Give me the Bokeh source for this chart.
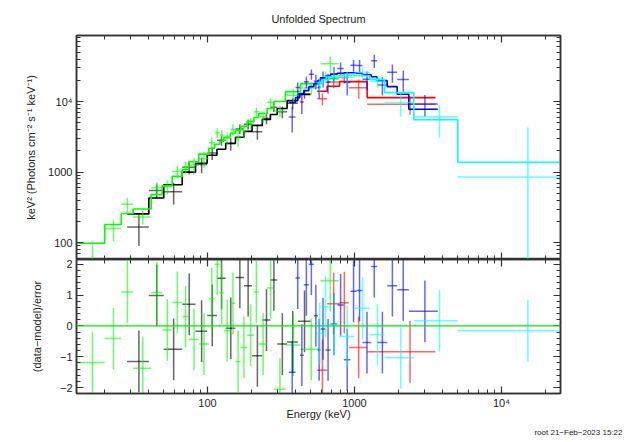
import numpy as np
from bokeh.plotting import figure
from bokeh.layouts import column
from bokeh.models import (Range1d, LogAxis, LinearAxis, LogTicker, SingleIntervalTicker,
                          Title, Span, CustomJSTickFormatter)
from bokeh.embed import file_html
from bokeh.resources import INLINE

# ---------------- data ----------------
# energy bin edges (keV), unfolded flux keV^2 (Photons cm^-2 s^-1 keV^-1), errors, model, residuals
black_lo = [28.4, 39.9, 50.4, 67.3, 82.9, 99.5, 116, 133, 155, 177, 201, 236, 268, 298, 348, 412]
black_hi = [39.9, 50.4, 67.3, 82.9, 99.5, 116, 133, 155, 177, 201, 236, 268, 298, 348, 412, 502]
black_flux = [167, 548, 527, 1175, 1284, 1865, 2824, 2520, 4091, 4763, 3745, 5768, 8316, 7168, 9461, 12843]
black_err = [77, 120, 179, 250, 321, 382, 464, 512, 623, 756, 872, 1004, 1180, 1354, 1651, 1884]
black_model = [256, 430, 663, 1000, 1339, 1735, 2109, 2561, 3113, 3780, 4591, 5577, 6558, 7967, 10320, 12560]
black_resid = [-1.15, 0.98, -0.76, 0.70, -0.17, 0.34, 1.54, -0.08, 1.57, 1.30, -0.97, 0.19, 1.49, -0.59, -0.52, 0.15]

red_lo = [558, 652, 791, 915, 1219]
red_hi = [652, 791, 915, 1219, 3556]
red_flux = [11000, 19000, 22000, 15740, 9160]
red_err = [2100, 3470, 3800, 4860, 2640]
red_model = [14000, 16500, 19140, 19140, 11380]
red_resid = [-1.44, 0.72, 0.75, -0.70, -0.84]

green_lo = [13.0, 20.0, 25.9, 31.2, 41.4, 49.2, 57.5, 67.3, 74.6, 87.3, 102, 112, 121, 129, 143,
            155, 168, 186, 207, 223, 255, 283, 339, 429, 587]
green_hi = [20.0, 25.9, 31.2, 41.4, 49.2, 57.5, 67.3, 74.6, 87.3, 102, 112, 121, 129, 143, 155,
            168, 186, 207, 223, 255, 283, 339, 429, 587, 782]
green_flux = [58, 159, 350, 231, 603, 622, 1030, 1172, 1255, 1558, 2600, 3600, 3350, 3020, 4050,
              3050, 3850, 4950, 7150, 6100, 9800, 7300, 12300, 15600, 34300]
green_err = [34, 54, 83, 50, 115, 140, 210, 240, 330, 410, 480, 560, 575, 620, 700,
             750, 850, 920, 1090, 1150, 1490, 1320, 2470, 3100, 9000]
green_model = [98, 181, 259, 300, 480, 640, 870, 1100, 1400, 1800, 2178, 2479, 2734, 3113, 3543,
               3908, 4448, 5226, 5953, 6777, 7967, 10000, 13830, 17940, 21090]
green_resid = [-1.19, -0.41, 1.10, -1.37, 1.07, -0.13, 0.76, 0.30, -0.44, -0.59, 0.88, 2.0, 1.07, -0.15, 0.73,
               -1.15, -0.70, -0.30, 1.10, -0.59, 1.23, -2.05, -0.62, -0.76, 1.46]

blue_lo = [357, 397, 425, 452, 489, 529, 563, 587, 635, 687, 763, 846, 939, 1032, 1133, 1299, 1427, 1669, 1952, 2341]
blue_hi = [397, 425, 452, 489, 529, 563, 587, 635, 687, 763, 846, 939, 1032, 1133, 1299, 1427, 1669, 1952, 2341, 3687]
blue_flux = [6053, 15790, 9890, 19040, 24400, 19420, 15910, 21250, 18710, 24760, 29480, 18570, 32780, 32450,
             20750, 38000, 17100, 26000, 20600, 9258]
blue_err = [2421, 2845, 3243, 3573, 4068, 4485, 4943, 5448, 5810, 6098, 6300, 6403, 6403, 6300,
            5998, 8000, 4943, 7500, 6800, 3117]
blue_model = [9685, 11380, 12970, 14290, 16270, 17940, 19770, 21790, 23240, 24390, 25200, 25610, 25610, 25200,
              23990, 22490, 19770, 16270, 12670, 7793]
blue_resid = [-1.50, 1.55, -0.95, 1.33, 2.0, 0.33, -0.78, -0.10, -0.78, 0.06, 0.68, -1.10, 1.12, 1.15,
              -0.54, 1.92, -0.54, 1.30, 1.17, 0.47]

cyan_lo = [558, 603, 669, 782, 1000, 1271, 1600, 2532, 5043]
cyan_hi = [603, 669, 782, 1000, 1271, 1600, 2532, 5043, 25200]
cyan_flux = [17570, 22890, 22660, 22090, 25800, 19440, 9685, 6090, 851]
cyan_err = [3800, 4000, 4200, 4500, 4500, 4000, 3600, 3000, 3450]
cyan_model = [18520, 20410, 22490, 23620, 23240, 20600, 13390, 5525, 1383]
cyan_resid = [-0.25, 0.62, 0.04, -0.34, 0.57, -0.29, -1.03, 0.17, -0.16]

tick_labels = {100: "100", 1000: "1000", 10000: "10\u2074"}

title_text = "Unfolded Spectrum"
ylabel_top = "keV\u00b2 (Photons cm\u207b\u00b2 s\u207b\u00b9 keV\u207b\u00b9)"
ylabel_bot = "(data\u2212model)/error"
xlabel = "Energy (keV)"
footnote = "root 21\u2212Feb\u22122023 15:22"

# ---------------- styling ----------------
FONT = "Liberation Sans"
TXT = "#222222"
FRAME = "#333333"

x_range = Range1d(12.85, 25200)
blank = CustomJSTickFormatter(code="return ''")


def style_axis(ax, labels=True, size="11px"):
    ax.axis_line_color = FRAME
    ax.axis_line_width = 1.5
    ax.major_tick_line_color = FRAME
    ax.minor_tick_line_color = FRAME
    ax.major_tick_line_width = 1.2
    ax.minor_tick_line_width = 1.0
    ax.major_tick_in = 7
    ax.major_tick_out = 0
    ax.minor_tick_in = 4
    ax.minor_tick_out = 0
    ax.major_label_text_font = FONT
    ax.major_label_text_color = TXT
    ax.axis_label_text_font = FONT
    ax.axis_label_text_color = TXT
    ax.axis_label_text_font_style = "normal"
    ax.axis_label_text_font_size = size
    ax.major_label_text_font_size = size
    if labels:
        ax.major_label_standoff = 4
    else:
        ax.formatter = blank
        ax.major_label_standoff = 0


def base_fig(height, y_range, y_type, mb_top, mb_bottom):
    p = figure(width=643, height=height, x_axis_type="log", y_axis_type=y_type,
               x_range=x_range, y_range=y_range, output_backend="svg",
               toolbar_location=None, min_border_left=76, min_border_right=83,
               min_border_top=mb_top, min_border_bottom=mb_bottom)
    p.grid.visible = False
    p.outline_line_color = FRAME
    p.outline_line_width = 1.5
    p.background_fill_color = "white"
    p.border_fill_color = "white"
    return p


# top panel
p1 = base_fig(259, Range1d(57.8, 86300), "log", 34, 0)
p1.title.text = title_text
p1.title.align = "center"
p1.title.text_font = FONT
p1.title.text_font_size = "11px"
p1.title.text_font_style = "normal"
p1.title.text_color = TXT
p1.title.standoff = 21
p1.xaxis[0].ticker = LogTicker(mantissas=[1], num_minor_ticks=10)
style_axis(p1.xaxis[0], labels=False)
p1.yaxis[0].ticker = LogTicker(mantissas=[1], num_minor_ticks=10)
style_axis(p1.yaxis[0])
p1.yaxis[0].major_label_overrides = tick_labels
p1.yaxis[0].axis_label = ylabel_top
p1.yaxis[0].axis_label_standoff = 8
ax_top = LogAxis(ticker=LogTicker(mantissas=[1], num_minor_ticks=10))
style_axis(ax_top, labels=False)
p1.add_layout(ax_top, "above")
ax_right1 = LogAxis(ticker=LogTicker(mantissas=[1], num_minor_ticks=10))
style_axis(ax_right1, labels=False)
p1.add_layout(ax_right1, "right")

# bottom panel
p2 = base_fig(183, Range1d(-2.19, 2.15), "linear", 0, 49)
p2.xaxis[0].ticker = LogTicker(mantissas=[1], num_minor_ticks=10)
style_axis(p2.xaxis[0])
p2.xaxis[0].major_label_overrides = tick_labels
p2.xaxis[0].major_label_standoff = 3
p2.xaxis[0].axis_label = xlabel
p2.xaxis[0].axis_label_standoff = -4
p2.yaxis[0].ticker = SingleIntervalTicker(interval=1, num_minor_ticks=5)
style_axis(p2.yaxis[0])
p2.yaxis[0].major_label_overrides = {-2: "\u22122", -1: "\u22121"}
p2.yaxis[0].axis_label = ylabel_bot
p2.yaxis[0].axis_label_standoff = 14
ax_top2 = LogAxis(ticker=LogTicker(mantissas=[1], num_minor_ticks=10))
style_axis(ax_top2, labels=False)
p2.add_layout(ax_top2, "above")
ax_right2 = LinearAxis(ticker=SingleIntervalTicker(interval=1, num_minor_ticks=5))
style_axis(ax_right2, labels=False)
p2.add_layout(ax_right2, "right")

# footnote
foot = Title(text=footnote, align="right", text_font=FONT, text_font_size="8px",
             text_font_style="normal", text_color=TXT, offset=-62, standoff=6)
p2.add_layout(foot, "below")

# zero line in residual panel
p2.add_layout(Span(location=0, dimension="width", line_color="#00ee00", line_width=1.2))


def draw(lo, hi, flux, err, model, resid, color):
    lo = np.asarray(lo, float)
    hi = np.asarray(hi, float)
    ctr = (lo + hi) / 2.0
    f = np.asarray(flux, float)
    e = np.asarray(err, float)
    m = np.asarray(model, float)
    r = np.asarray(resid, float)
    kw = dict(line_color=color, line_width=1.5, line_alpha=0.6)
    # data crosses
    p1.segment(x0=lo, y0=f, x1=hi, y1=f, **kw)
    p1.segment(x0=ctr, y0=np.maximum(f - e, 1.0), x1=ctr, y1=f + e, **kw)
    # model histogram
    xs = np.column_stack([lo, hi]).ravel()
    ys = np.repeat(m, 2)
    p1.line(xs, ys, line_color=color, line_width=1.6)
    # residuals
    p2.segment(x0=lo, y0=r, x1=hi, y1=r, **kw)
    p2.segment(x0=ctr, y0=r - 1, x1=ctr, y1=r + 1, **kw)


draw(black_lo, black_hi, black_flux, black_err, black_model, black_resid, "#000000")
draw(red_lo, red_hi, red_flux, red_err, red_model, red_resid, "#ff0000")
draw(green_lo, green_hi, green_flux, green_err, green_model, green_resid, "#00ff00")
draw(blue_lo, blue_hi, blue_flux, blue_err, blue_model, blue_resid, "#0000ff")
draw(cyan_lo, cyan_hi, cyan_flux, cyan_err, cyan_model, cyan_resid, "#00ffff")

layout = column(p1, p2, spacing=0)
open("out.html", "w").write(file_html(layout, INLINE))
